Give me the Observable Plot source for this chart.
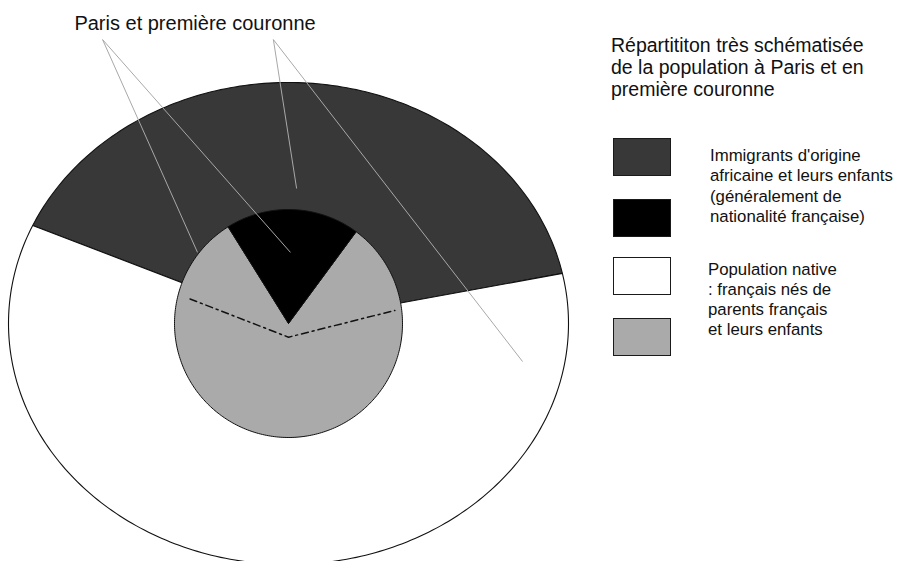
<!DOCTYPE html>
<html>
<head>
<meta charset="utf-8">
<script src="https://cdn.jsdelivr.net/npm/d3@7"></script>
<script src="https://cdn.jsdelivr.net/npm/@observablehq/plot@0.6"></script>
<style>
  html, body { margin: 0; padding: 0; background: #fff; }
  #wrap { position: relative; width: 900px; height: 561px; overflow: hidden; font-family: "Liberation Sans", Arial, sans-serif; color: #111; }
  #chart { position: absolute; left: 0; top: 0; }
  .title { position: absolute; left: 611px; top: 34px; font-size: 19.5px; line-height: 22px; white-space: nowrap; }
  .swatch { position: absolute; left: 613px; width: 56px; height: 36px; border: 1px solid #1a1a1a; }
  .ltext { position: absolute; font-size: 16.8px; white-space: nowrap; }
</style>
</head>
<body>
<div id="wrap">
  <div id="chart"></div>
  <div id="legend"></div>
</div>
<script>
// ---------- data ----------
const outerCategories = ["Immigrants d'origine africaine et leurs enfants (première couronne)", "Population native (première couronne)"];
const outerShares = [40, 60];            // % of the outer ring
const outerColors = ["#383838", "#ffffff"];
const outerStartAngle = 12;              // degrees, counter-clockwise from east

const innerCategories = ["Immigrants d'origine africaine et leurs enfants (Paris)", "Population native (Paris)"];
const innerShares = [19, 81];            // % of the inner disc
const innerColors = ["#000000", "#aaaaaa"];
const innerStartAngle = 53.6;

// dash-dot separation inside Paris (polar: angle in degrees, radius as share of inner radius)
const separatorAngles = [166, 270, 7];
const separatorRadii = [0.89, 0.12, 0.94];

const labelText = "Paris et première couronne";
// leader lines: [x1, y1, x2, y2] in chart units (outer ellipse = unit circle)
const leaderX1 = [-0.664, -0.664, -0.054, -0.054];
const leaderY1 = [1.178, 1.178, 1.178, 1.178];
const leaderX2 = [-0.325, 0.007, 0.029, 0.836];
const leaderY2 = [0.295, 0.295, 0.560, -0.158];

const titleLines = ["Répartititon très schématisée", "de la population à Paris et en", "première couronne"];
const legendColors = ["#383838", "#000000", "#ffffff", "#aaaaaa"];
const legendLabel1 = ["Immigrants d'origine", "africaine et leurs enfants", "(généralement de", "nationalité française)"];
const legendLabel2 = ["Population native", ": français nés de", "parents français", "et leurs enfants"];

// ---------- layout ----------
const L = { cx: 288, cy: 323, rx: 280, ry: 241, inner: 114 };
const innerRX = L.inner / L.rx, innerRY = L.inner / L.ry;

function sectors(shares, start, rx, ry) {
  const total = d3.sum(shares);
  let a = start;
  return shares.map((s, i) => {
    const a0 = a, a1 = a + 360 * s / total;
    a = a1;
    const pts = [{x: 0, y: 0}];
    const n = Math.max(2, Math.ceil(a1 - a0));
    for (let k = 0; k <= n; k++) {
      const t = (a0 + (a1 - a0) * k / n) * Math.PI / 180;
      pts.push({x: rx * Math.cos(t), y: ry * Math.sin(t)});
    }
    pts.push({x: 0, y: 0});
    return {i, pts};
  });
}

const outer = sectors(outerShares, outerStartAngle, 1, 1);
const inner = sectors(innerShares, innerStartAngle, innerRX, innerRY);
const sep = separatorAngles.map((a, i) => ({
  x: separatorRadii[i] * innerRX * Math.cos(a * Math.PI / 180),
  y: separatorRadii[i] * innerRY * Math.sin(a * Math.PI / 180)
}));
const leaders = leaderX1.map((d, i) => ({x1: d, y1: leaderY1[i], x2: leaderX2[i], y2: leaderY2[i]}));

const marks = [];
outer.forEach(s => marks.push(Plot.line(s.pts, {x: "x", y: "y", fill: outerColors[s.i], stroke: "#111", strokeWidth: 1.1, curve: "linear"})));
inner.slice().reverse().forEach(s => marks.push(Plot.line(s.pts, {x: "x", y: "y", fill: innerColors[s.i], stroke: "#111", strokeWidth: 1, curve: "linear"})));
marks.push(Plot.line(sep, {x: "x", y: "y", stroke: "#111", strokeWidth: 1.5, strokeDasharray: "7,4,2,4"}));
marks.push(Plot.link(leaders, {x1: "x1", y1: "y1", x2: "x2", y2: "y2", stroke: "#a8a8a8", strokeWidth: 1}));
marks.push(Plot.text([labelText], {x: (194.5 - L.cx) / L.rx, y: (L.cy - 23) / L.ry, text: d => d, fontSize: 20, fill: "#111", textAnchor: "middle", fontFamily: "Liberation Sans, Arial, sans-serif"}));

const chart = Plot.plot({
  width: 900, height: 561, margin: 0,
  style: {background: "transparent", overflow: "hidden"},
  x: {domain: [-1, 1], range: [L.cx - L.rx, L.cx + L.rx], axis: null},
  y: {domain: [-1, 1], range: [L.cy + L.ry, L.cy - L.ry], axis: null},
  marks
});
document.getElementById("chart").append(chart);

// ---------- legend ----------
const leg = document.getElementById("legend");
const t = document.createElement("div");
t.className = "title";
t.innerHTML = titleLines.join("<br>");
leg.append(t);
const swatchTops = [138, 199, 257, 318];
legendColors.forEach((c, i) => {
  const s = document.createElement("div");
  s.className = "swatch";
  s.style.top = swatchTops[i] + "px";
  s.style.background = c;
  leg.append(s);
});
const g1 = document.createElement("div");
g1.className = "ltext"; g1.style.left = "710px"; g1.style.top = "146px"; g1.style.lineHeight = "20.3px";
g1.innerHTML = legendLabel1.join("<br>");
leg.append(g1);
const g2 = document.createElement("div");
g2.className = "ltext"; g2.style.left = "708px"; g2.style.top = "260px"; g2.style.lineHeight = "20px";
g2.innerHTML = legendLabel2.join("<br>");
leg.append(g2);
</script>
</body>
</html>
